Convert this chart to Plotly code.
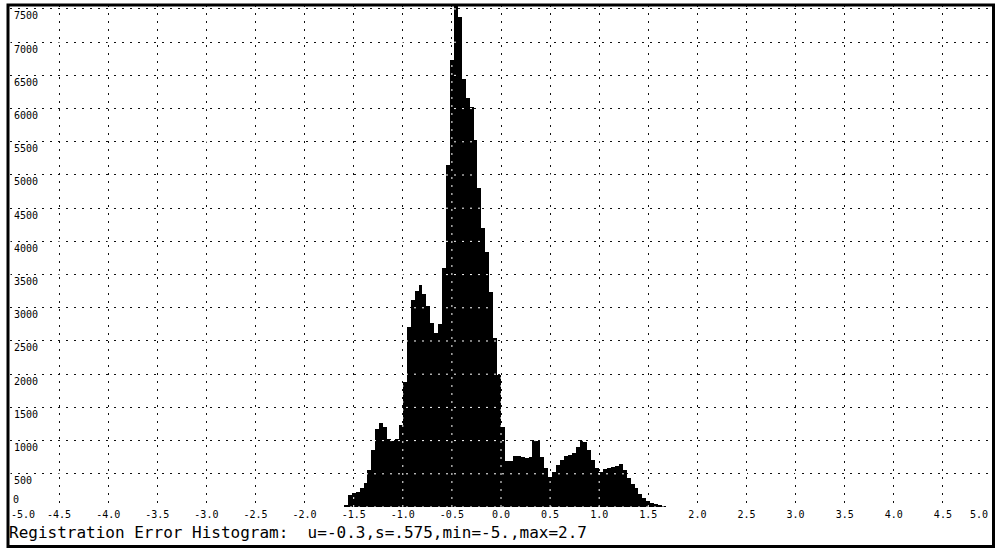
import numpy as np
import plotly.graph_objects as go

# ---- data -------------------------------------------------------------
# registration error histogram, fixed 0.04-wide bins starting at -1.60
BIN_START = -1.60
BIN_WIDTH = 0.04
counts = [
    30, 180, 205, 230, 285, 360, 555, 860, 1180, 1265,          # -1.60 .. -1.24
    1200, 1020, 1000, 1030, 1235,                               # -1.20 .. -1.04
    1887, 2715, 3117, 3257, 3343, 3208, 3027, 2766, 2625, 2756, 3594,  # -1.00 .. -0.60
    5150, 6732, 7560, 7384, 6445, 6155, 6020, 5527, 4809,       # -0.56 .. -0.24
    4200, 3845, 3243, 2540, 1988,                               # -0.20 .. -0.04
    1200, 700, 690, 768, 768, 753, 738, 760, 1009, 1000, 760, 582, 457,  # 0.00 .. 0.48
    532, 632, 715, 768, 783, 818, 900, 1009, 980, 858, 710, 582,         # 0.52 .. 0.96
    532, 565, 590, 600, 616, 655, 560, 430, 350, 290, 200, 140, 90, 60, 40, 25, 12,  # 1.00 .. 1.64
]

x_tick_values = [-5.0, -4.5, -4.0, -3.5, -3.0, -2.5, -2.0, -1.5, -1.0, -0.5, 0.0,
                 0.5, 1.0, 1.5, 2.0, 2.5, 3.0, 3.5, 4.0, 4.5, 5.0]
x_tick_labels = ["-5.0", "-4.5", "-4.0", "-3.5", "-3.0", "-2.5", "-2.0", "-1.5", "-1.0", "-0.5", "0.0",
                 "0.5", "1.0", "1.5", "2.0", "2.5", "3.0", "3.5", "4.0", "4.5", "5.0"]
y_tick_values = [0, 500, 1000, 1500, 2000, 2500, 3000, 3500, 4000, 4500,
                 5000, 5500, 6000, 6500, 7000, 7500]
y_tick_labels = ["0", "500", "1000", "1500", "2000", "2500", "3000", "3500", "4000", "4500",
                 "5000", "5500", "6000", "6500", "7000", "7500"]

caption = "Registration Error Histogram:  u=-0.3,s=.575,min=-5.,max=2.7"

X_RANGE = [-5.0, 5.0]
Y_RANGE = [0, 7560]

# ---- geometry ---------------------------------------------------------
W, H = 997, 550
M_L, M_R, M_T, M_B = 10, 5, 5, 43
PLOT_W = W - M_L - M_R
PLOT_H = H - M_T - M_B


def px_x(px):
    """figure pixel column -> paper x"""
    return (px - M_L) / PLOT_W


def px_y(py):
    """figure pixel row -> paper y"""
    return (H - M_B - py) / PLOT_H


MONO = "DejaVu Sans Mono"
DOTS = "2px,6px"              # dotted grid: 2 on, 6 off
DOTS_SHIFTED = "0px,4px,2px,2px"  # same period, dots half a period later
GRID = dict(showgrid=True, gridcolor="#111111", gridwidth=1, griddash=DOTS)

centers = BIN_START + BIN_WIDTH * (np.arange(len(counts)) + 0.5)

fig = go.Figure()
fig.add_trace(go.Bar(
    x=centers, y=counts, width=BIN_WIDTH,
    marker=dict(color="black", line=dict(width=0)),
    hoverinfo="x+y",
))

fig.update_xaxes(
    range=X_RANGE, tickmode="array",
    tickvals=x_tick_values, ticktext=[""] + x_tick_labels[1:-1] + [""],
    ticks="", showline=False, zeroline=False,
    tickfont=dict(family=MONO, size=10, color="black"),
    ticklabelstandoff=0,
    **GRID,
)
fig.update_yaxes(
    range=Y_RANGE, tickmode="array",
    tickvals=y_tick_values, ticktext=[""] + y_tick_labels[1:],
    ticks="", showline=False, zeroline=False,
    ticklabelposition="inside", ticklabelshift=7, ticklabelstandoff=1,
    ticklabeloverflow="allow",
    tickfont=dict(family=MONO, size=10, color="black"),
    **GRID,
)

annotations = [
    # end labels sit flush with the frame
    dict(x=X_RANGE[0], y=px_y(H - M_B), xref="x", yref="paper", text=x_tick_labels[0],
         xanchor="left", yanchor="top", showarrow=False,
         font=dict(family=MONO, size=10, color="black"), xshift=-1),
    dict(x=X_RANGE[1], y=px_y(H - M_B), xref="x", yref="paper", text=x_tick_labels[-1],
         xanchor="right", yanchor="top", showarrow=False,
         font=dict(family=MONO, size=10, color="black"), xshift=-2),
    dict(x=px_x(M_L + 1), y=0, xref="paper", yref="y", text=y_tick_labels[0],
         xanchor="left", yanchor="bottom", showarrow=False,
         font=dict(family=MONO, size=10, color="black")),
    dict(x=px_x(7), y=px_y(532), xref="paper", yref="paper", text=caption,
         xanchor="left", yanchor="middle", showarrow=False,
         font=dict(family=MONO, size=16, color="black")),
]

# light dots over the bars so the grid stays visible on black
shapes = []
for xv in x_tick_values:
    shapes.append(dict(type="line", xref="x", yref="y", x0=xv, x1=xv,
                       y0=Y_RANGE[1], y1=Y_RANGE[0],
                       line=dict(color="white", width=1, dash=DOTS_SHIFTED), layer="above"))
for yv in y_tick_values:
    shapes.append(dict(type="line", xref="x", yref="y", x0=X_RANGE[0], x1=X_RANGE[1],
                       y0=yv, y1=yv,
                       line=dict(color="white", width=1, dash=DOTS_SHIFTED), layer="above"))

# outer frame around plot and caption
shapes.append(dict(type="rect", xref="paper", yref="paper",
                   x0=px_x(8), x1=px_x(993.5), y0=px_y(546.5), y1=px_y(5),
                   line=dict(color="black", width=3), fillcolor="rgba(0,0,0,0)", layer="above"))

fig.update_layout(
    width=W, height=H,
    margin=dict(l=M_L, r=M_R, t=M_T, b=M_B, pad=0),
    paper_bgcolor="white", plot_bgcolor="white",
    bargap=0, showlegend=False,
    annotations=annotations, shapes=shapes,
)

fig.write_html("out.html")
